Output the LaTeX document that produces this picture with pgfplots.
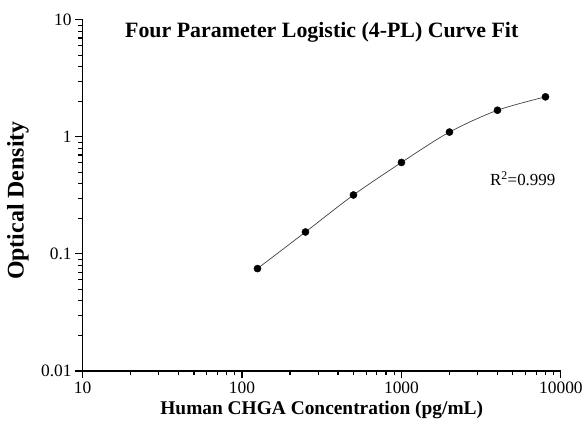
\documentclass[border=0pt]{standalone}
\usepackage{fontspec}
\setmainfont{Liberation Serif}
\usepackage{pgfplots}
\pgfplotsset{compat=1.18}
\newcommand{\tl}[1]{\fontsize{17.5}{17.5}\selectfont\textrm{#1}}
\begin{document}
\begin{tikzpicture}
\begin{axis}[
  xmode=log, ymode=log,
  xmin=10, xmax=10000, ymin=0.01, ymax=10,
  width=481pt, height=353pt, scale only axis,
  axis lines*=left,
  axis line style={line width=1.1pt},
  tick align=outside,
  major tick length=7.5pt, minor tick length=4.5pt,
  tick style={black, line width=1.1pt},
  /pgf/number format/assume math mode=true,
  xtick={10,100,1000,10000}, xticklabels={\tl{10},\tl{100},\tl{1000},\tl{10000}},
  ytick={0.01,0.1,1,10}, yticklabels={\tl{0.01},\tl{0.1},\tl{1},\tl{10}},
  tick label style={font=\fontsize{17.5}{17.5}\selectfont},
  xlabel={Human CHGA Concentration (pg/mL)},
  ylabel={Optical Density},
  xlabel style={font=\bfseries\fontsize{19.5}{19.5}\selectfont, at={(axis description cs:0.5,-0.11)}, anchor=center},
  ylabel style={font=\bfseries\fontsize{24}{24}\selectfont, at={(axis description cs:-0.135,0.485)}, anchor=center},
  clip=false,
]
\addplot[smooth, line width=0.7pt, black!75, no marks] coordinates {
  (125,0.075) (250,0.154) (500,0.319) (1000,0.605) (2000,1.10) (4000,1.69) (8000,2.20)
};
\addplot[only marks, mark=*, mark size=3.6pt, black] coordinates {
  (125,0.075) (250,0.154) (500,0.319) (1000,0.605) (2000,1.10) (4000,1.69) (8000,2.20)
};
\node[font=\bfseries\fontsize{22}{22}\selectfont] at (rel axis cs:0.5,0.965) {Four Parameter Logistic (4-PL) Curve Fit};
\node[font=\fontsize{17}{17}\selectfont] at (rel axis cs:0.92,0.547) {R\textsuperscript{2}=0.999};
\end{axis}
\path ([shift={(-83pt,-55pt)}]current axis.south west) rectangle ([shift={(23pt,20pt)}]current axis.north east);
\end{tikzpicture}
\end{document}
